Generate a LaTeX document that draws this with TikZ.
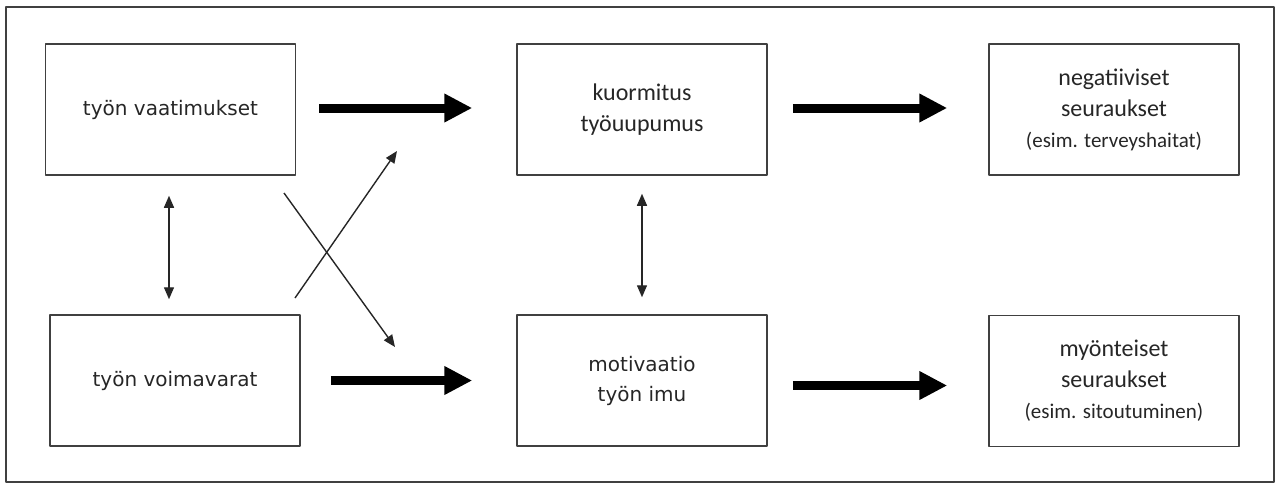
\documentclass[tikz,border=0pt]{standalone}
\usepackage{fontspec}
\setmainfont{DejaVu Sans}
\newfontfamily\calfont{Carlito}
\usetikzlibrary{arrows.meta}
\begin{document}
\begin{tikzpicture}[x=0.5pt, y=-0.5pt, line join=round,
  box/.style={draw=black!75, line width=0.75pt, minimum width=125pt, minimum height=65.5pt, inner sep=0pt, align=center, text=black!85},
  vfont/.style={font=\fontsize{10}{15}\selectfont},
  cfont/.style={font=\calfont\fontsize{12}{15.5}\selectfont},
  bigarrow/.style={line width=4.5pt, -{Triangle[length=14pt,width=13.5pt]}},
  thinarrow/.style={line width=0.7pt, black!85, >={Triangle[length=6pt,width=5pt]}}]
  \useasboundingbox (0,0) rectangle (1276,484);
  \draw[black!75, line width=0.75pt] (6,7) rectangle (1274,482);
  \node[box, vfont] (vaat) at (170.5,109.5) {työn vaatimukset};
  \node[box, vfont] (voim) at (175,380.5) {työn voimavarat};
  \node[box, cfont] (kuor) at (642,109.5) {kuormitus\\työuupumus};
  \node[box, vfont] (moti) at (642,380.5) {motivaatio\\työn imu};
  \node[box, cfont] (nega) at (1114,109.5) {negatiiviset\\seuraukset\\{\fontsize{10.5}{14}\selectfont (esim. terveyshaitat)}};
  \node[box, cfont] (myon) at (1114,381) {myönteiset\\seuraukset\\{\fontsize{10.5}{14}\selectfont (esim. sitoutuminen)}};
  \coordinate (xa) at (284,193);
  \coordinate (xb) at (395,347);
  \coordinate (xc) at (295,298);
  \coordinate (xd) at (397,151);
  \draw[bigarrow, shorten <=11.5pt, shorten >=22pt] ([yshift=0.75pt]vaat.east) -- ([yshift=0.75pt]kuor.west);
  \draw[bigarrow, shorten <=12.5pt, shorten >=20.5pt] ([yshift=0.75pt]kuor.east) -- ([yshift=0.75pt]nega.west);
  \draw[bigarrow, shorten <=15pt, shorten >=22pt] (voim.east) -- (voim.east -| moti.west);
  \draw[bigarrow, shorten <=12.5pt, shorten >=20.5pt] ([yshift=-2.5pt]moti.east) -- ([yshift=-2.5pt]moti.east -| myon.west);
  \draw[thinarrow, <->, shorten <=10pt, shorten >=7.5pt] ([xshift=-0.75pt]vaat.south) -- ([xshift=-0.75pt]vaat.south |- voim.north);
  \draw[thinarrow, <->, shorten <=9pt, shorten >=8.5pt] (kuor.south) -- (moti.north);
  \draw[thinarrow, ->] (xa) -- (xb);
  \draw[thinarrow, ->] (xc) -- (xd);
\end{tikzpicture}
\end{document}
